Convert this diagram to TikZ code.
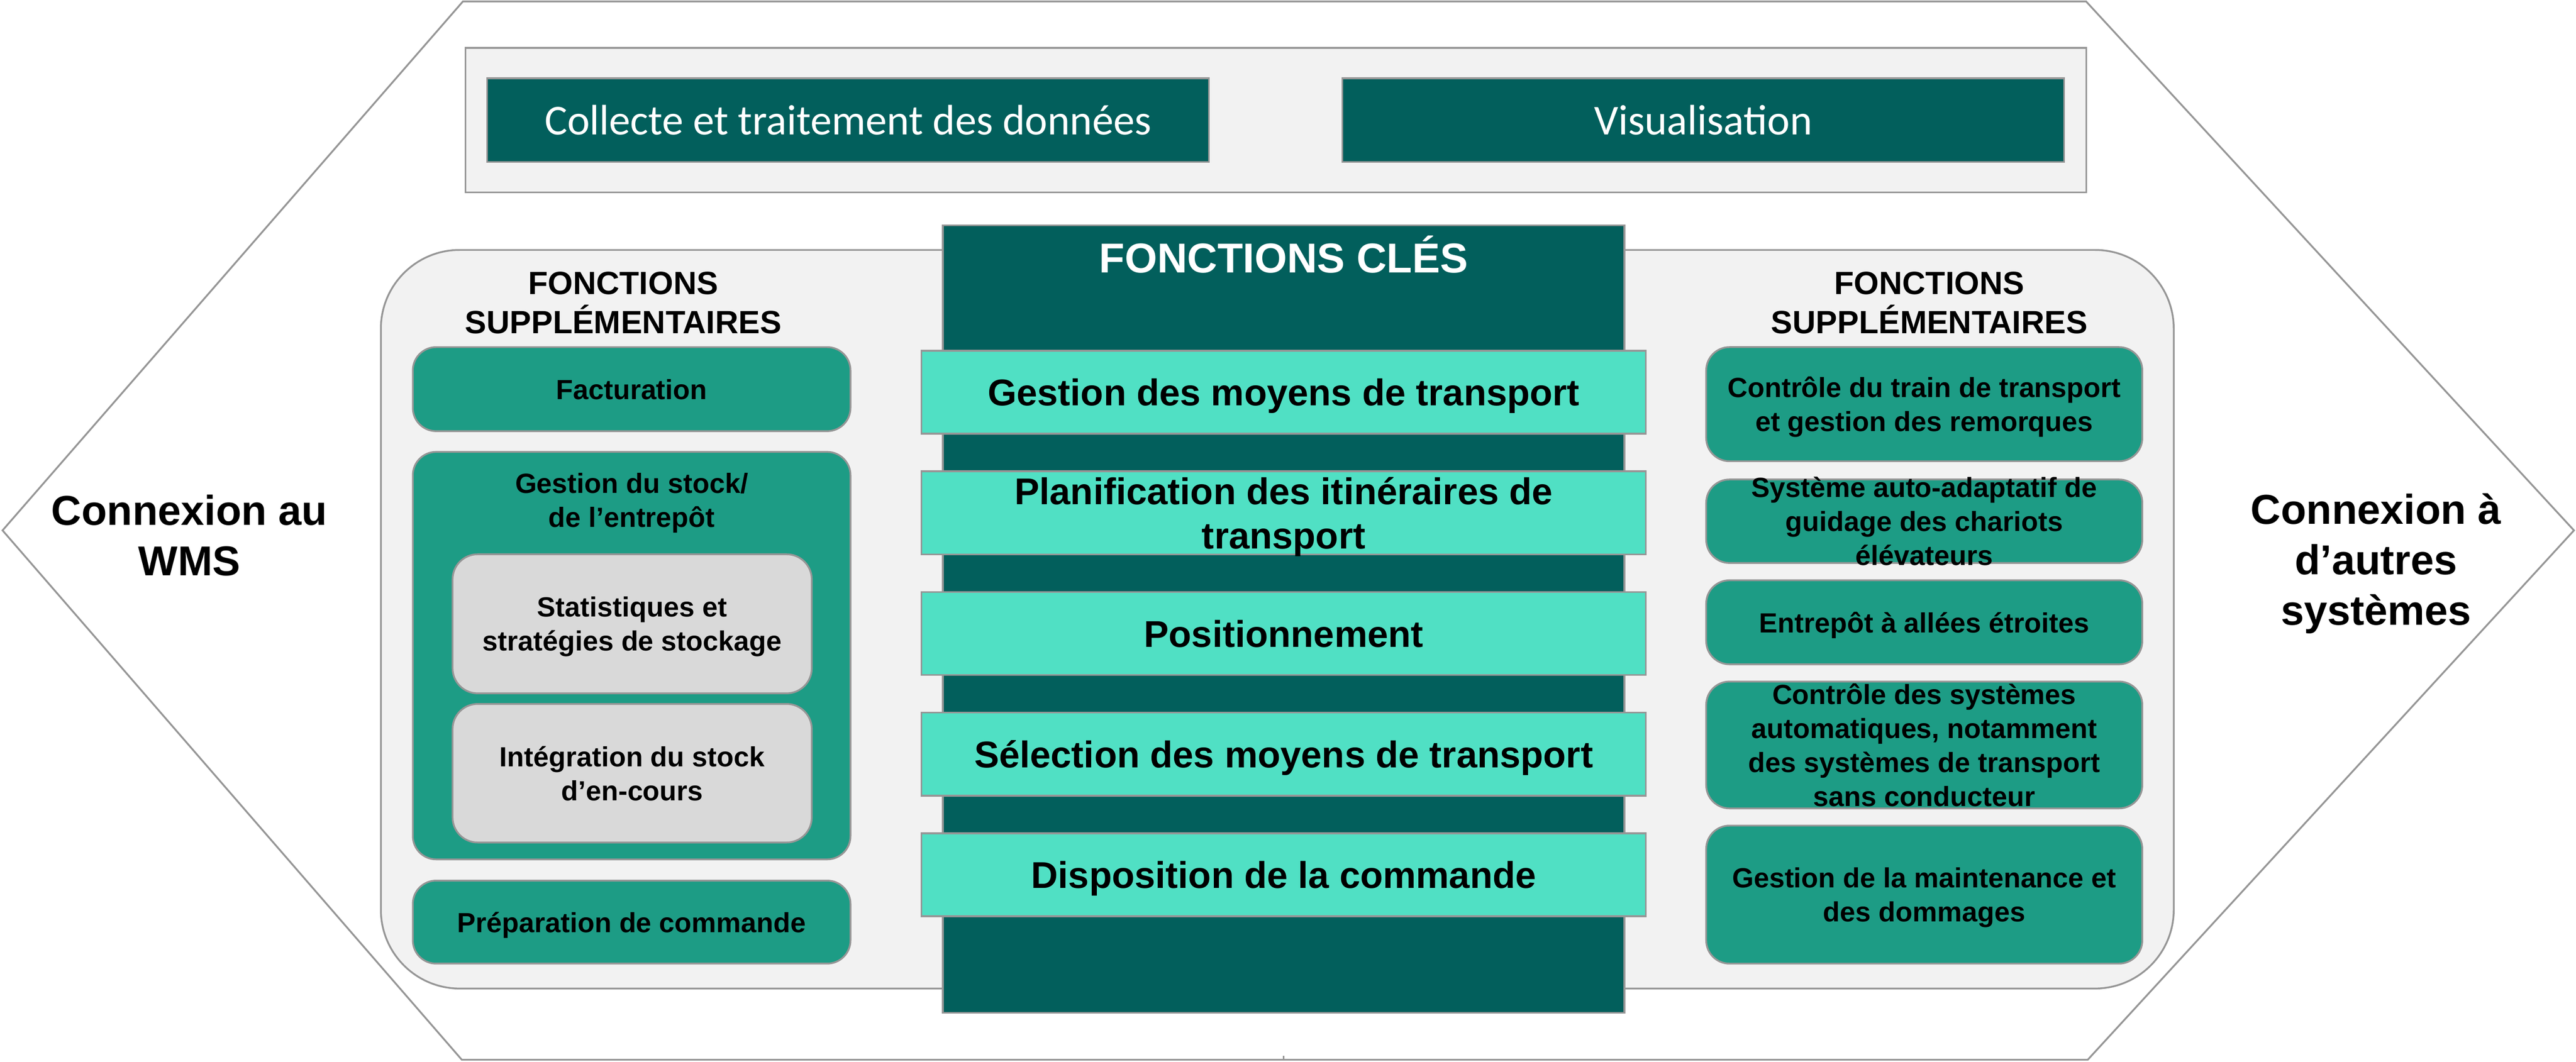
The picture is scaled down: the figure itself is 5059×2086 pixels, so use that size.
\documentclass[tikz,border=0pt]{standalone}
\usepackage{fontspec}
\setmainfont{Liberation Sans}
\newfontfamily\calibri{Carlito}
\definecolor{darkteal}{HTML}{025F5C}
\definecolor{midteal}{HTML}{1D9C85}
\definecolor{lightteal}{HTML}{50E0C4}
\definecolor{boxgray}{HTML}{D9D9D9}
\definecolor{panelgray}{HTML}{F2F2F2}
\definecolor{linegray}{HTML}{969696}

\begin{document}
\begin{tikzpicture}[x=0.01cm,y=-0.01cm,
	every node/.style={inner sep=0pt,align=center},
	panel/.style={draw=linegray,line width=1pt,fill=panelgray},
	datbox/.style={draw=linegray,line width=1pt,fill=darkteal,text=white,minimum width=14.17cm,minimum height=1.64cm,font=\calibri\fontsize{23.8}{28}\selectfont},
	tile/.style={draw=linegray,line width=1pt,fill=midteal,rounded corners=13pt,text depth=0pt,font=\bfseries\fontsize{15.5}{19}\selectfont},
	subtile/.style={tile,fill=boxgray,rounded corners=14pt,minimum width=7.05cm},
	lefttile/.style={tile,minimum width=8.59cm},
	righttile/.style={tile,minimum width=8.56cm},
	tiletext/.style={font=\bfseries\fontsize{15.5}{19}\selectfont},
	keybar/.style={draw=linegray,line width=1pt,fill=lightteal,minimum width=14.22cm,minimum height=1.63cm,text depth=0pt,font=\bfseries\fontsize{20.8}{24.8}\selectfont},
	coltitle/.style={font=\bfseries\fontsize{18}{21.9}\selectfont},
	sidetext/.style={font=\bfseries\fontsize{23.3}{28.2}\selectfont}]
	\useasboundingbox (0,0) rectangle (5059,2086);
	\draw[draw=linegray,line width=1pt] (5,1042) -- (909,3) -- (4097,3) -- (5055,1042) -- (4100,2082) -- (907,2082) -- cycle;
	\draw[draw=linegray,line width=1pt] (2521,2074) -- (2521,2082);
	\draw[panel] (914,94) rectangle (4097,378);
	\node[datbox] (collect) at (1665.5,236) {Collecte et traitement des données};
	\node[datbox] (visu) at (3345,236) {Visualisation};
	\draw[panel,rounded corners=44pt] (748,491) rectangle (4269,1942);
	\node[coltitle] (leftttl) at (1224,595) {FONCTIONS\\SUPPLÉMENTAIRES};
	\node[coltitle] (rightttl) at (3789,595) {FONCTIONS\\SUPPLÉMENTAIRES};
	\node[lefttile,minimum height=1.65cm] (fact) at (1240.5,764.5) {Facturation};
	\node[lefttile,minimum height=8cm] (stock) at (1240.5,1288) {};
	\node[tiletext] (stocktxt) at (1240.5,988) {Gestion du stock/\\de l’entrepôt};
	\node[subtile,minimum height=2.73cm] (stat) at (1241.5,1225.5) {Statistiques et\\stratégies de stockage};
	\node[subtile,minimum height=2.72cm] (integ) at (1241.5,1519) {Intégration du stock\\d’en-cours};
	\node[lefttile,minimum height=1.63cm] (prep) at (1240.5,1811.5) {Préparation de commande};
	\node[righttile,minimum height=2.24cm] (train) at (3779,794) {Contrôle du train de transport\\et gestion des remorques};
	\node[righttile,minimum height=1.64cm] (guid) at (3779,1024) {};
	\node[tiletext] (guidtxt) at (guid) {Système auto-adaptatif de\\guidage des chariots\\élévateurs};
	\node[righttile,minimum height=1.65cm] (allee) at (3779,1222.5) {Entrepôt à allées étroites};
	\node[righttile,minimum height=2.49cm] (agv) at (3779,1463.5) {};
	\node[tiletext] (agvtxt) at (agv) {Contrôle des systèmes\\automatiques, notamment\\des systèmes de transport\\sans conducteur};
	\node[righttile,minimum height=2.71cm] (maint) at (3779,1757.5) {Gestion de la maintenance et\\des dommages};
	\node[draw=linegray,line width=1pt,fill=darkteal,minimum width=13.38cm,minimum height=15.46cm] (key) at (2521,1216) {};
	\node[anchor=base,text=white,font=\bfseries\fontsize{23.3}{28}\selectfont] (keyttl) at (2521,536) {FONCTIONS CLÉS};
	\node[keybar] (k1) at (2521,770.5) {Gestion des moyens de transport};
	\node[keybar] (k2) at (2521,1007.5) {Planification des itinéraires de\\transport};
	\node[keybar] (k3) at (2521,1244.5) {Positionnement};
	\node[keybar] (k4) at (2521,1481.5) {Sélection des moyens de transport};
	\node[keybar] (k5) at (2521,1718.5) {Disposition de la commande};
	\node[sidetext] (wms) at (372,1052) {Connexion au\\WMS};
	\node[sidetext] (other) at (4666,1107) {Connexion à\\d’autres\\systèmes};
\end{tikzpicture}
\end{document}
